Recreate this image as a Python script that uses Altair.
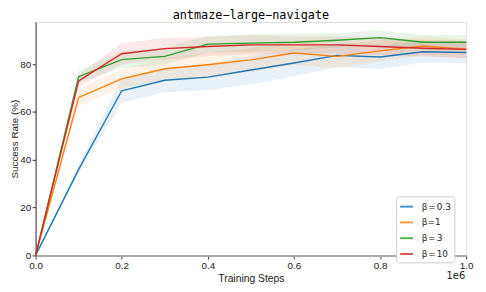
import altair as alt
import pandas as pd

steps = [0.0, 0.1, 0.2, 0.3, 0.4, 0.5, 0.6, 0.7, 0.8, 0.9, 1.0]
labels = ["β\u200a=\u200a0.3", "β=1", "β\u200a=\u200a3", "β\u200a=\u200a10"]
colors = ["#1f77b4", "#ff7f0e", "#2ca02c", "#d62728"]

blue = [0.0, 36.0, 68.9, 73.3, 74.6, 77.6, 80.5, 83.7, 83.0, 85.2, 84.9]
orange = [0.0, 66.1, 73.9, 78.1, 79.8, 81.8, 84.7, 83.3, 85.6, 87.6, 86.3]
green = [0.0, 74.8, 81.9, 83.3, 88.4, 88.8, 89.2, 90.0, 91.1, 89.2, 89.2]
red = [0.0, 73.0, 84.4, 86.5, 87.4, 88.1, 88.1, 88.1, 87.4, 86.7, 86.2]

blue_sd = [0.0, 2.0, 5.0, 5.0, 5.5, 6.0, 5.5, 5.0, 5.0, 4.5, 4.5]
orange_sd = [0.0, 3.5, 4.0, 4.5, 5.0, 5.0, 5.0, 5.0, 4.5, 4.0, 4.0]
green_sd = [0.0, 2.5, 3.5, 3.5, 3.5, 3.7, 3.5, 3.0, 3.0, 3.0, 3.0]
red_sd = [0.0, 2.5, 4.5, 4.5, 4.0, 4.0, 3.5, 3.5, 3.5, 3.5, 3.5]

series = [blue, orange, green, red]
sds = [blue_sd, orange_sd, green_sd, red_sd]

rows = []
for lab, vals, sd in zip(labels, series, sds):
    for s, v, d in zip(steps, vals, sd):
        rows.append({"step": s, "rate": v, "lo": v - d, "hi": v + d, "beta": lab})
df = pd.DataFrame(rows)

W, H = 437, 237
FONT = "DejaVu Sans"

xscale = alt.Scale(domain=[0, 1], nice=False, zero=False)
yscale = alt.Scale(domain=[0, 97.7], nice=False)
cscale = alt.Scale(domain=labels, range=colors)

base = alt.Chart(df)

bands = base.mark_area(opacity=0.1).encode(
    x=alt.X("step:Q", scale=xscale),
    y=alt.Y("lo:Q", scale=yscale),
    y2="hi:Q",
    fill=alt.Fill("beta:N", scale=cscale, legend=None),
)

lines = base.mark_line(strokeWidth=1.4).encode(
    x=alt.X(
        "step:Q",
        scale=xscale,
        title="Training Steps",
        axis=alt.Axis(
            values=[0, 0.2, 0.4, 0.6, 0.8, 1.0],
            format=".1f",
            domainColor="#aaaaaa",
            domainWidth=2,
            tickColor="#333333",
            tickSize=3.5,
            labelFontSize=10,
            labelColor="#222222",
            titleFontSize=10.5,
            titleFontWeight="normal",
            titleColor="#222222",
            titlePadding=3,
            grid=False,
            labelFlush=False,
        ),
    ),
    y=alt.Y(
        "rate:Q",
        scale=yscale,
        title="Success Rate (%)",
        axis=alt.Axis(
            values=[0, 20, 40, 60, 80],
            domainColor="#333333",
            tickColor="#333333",
            tickSize=3.5,
            labelFontSize=10,
            labelPadding=1.5,
            labelColor="#222222",
            titleFontSize=10,
            titleFontWeight="normal",
            titleColor="#222222",
            titlePadding=0,
            grid=False,
        ),
    ),
    stroke=alt.Stroke(
        "beta:N",
        scale=cscale,
        sort=labels,
        title=None,
        legend=alt.Legend(
            orient="none",
            legendX=366,
            legendY=177,
            symbolType="stroke",
            symbolStrokeWidth=2,
            symbolSize=169,
            symbolOpacity=0.8,
            labelFontSize=9,
            labelColor="#222222",
            labelFont=FONT,
            rowPadding=3,
            padding=3,
            strokeColor="#cccccc",
            fillColor="white",
            cornerRadius=3,
            labelOffset=8,
        ),
    ),
)

exp = alt.Chart(pd.DataFrame({"t": ["1e6"]})).mark_text(
    align="right", baseline="middle", fontSize=10, font=FONT, color="#222222"
).encode(
    x=alt.value(W - 1),
    y=alt.value(H + 21),
    text="t:N",
)

chart = (
    alt.layer(bands, lines, exp)
    .resolve_legend(fill="independent", stroke="independent")
    .properties(
        width=W,
        height=H,
        title=alt.TitleParams(
            "antmaze−large−navigate",
            font="DejaVu Sans Mono",
            fontSize=12,
            fontWeight="normal",
            color="#000000",
            offset=0,
        ),
        autosize=alt.AutoSizeParams(type="none"),
        padding={"left": 28, "top": 12, "right": 12, "bottom": 35},
    )
    .configure_view(stroke="#444444", strokeWidth=1)
    .configure_axis(labelFont=FONT, titleFont=FONT)
    .configure(background="white")
)

chart.save("out.html", embed_options={"renderer": "svg", "actions": False})
